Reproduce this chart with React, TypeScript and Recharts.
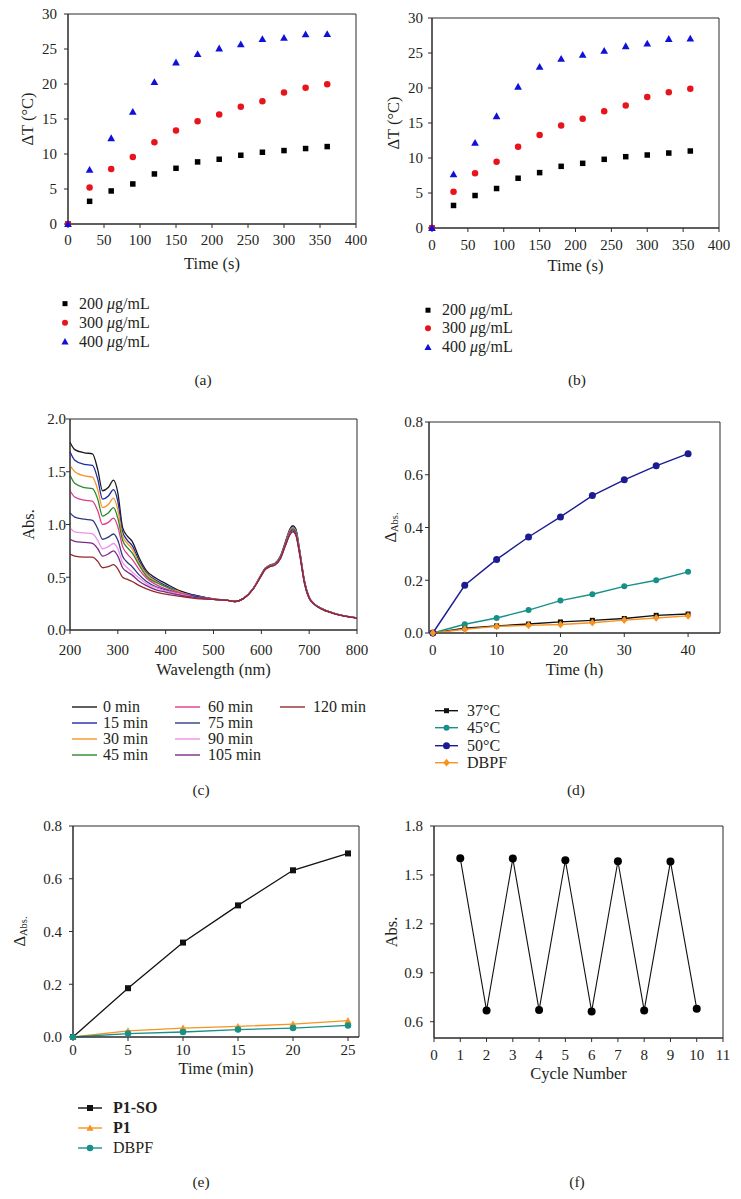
import React from "react";
import {
  ScatterChart,
  Scatter,
  LineChart,
  Line,
  XAxis,
  YAxis,
  ReferenceArea,
  Label,
} from "recharts";

const FONT = "'Liberation Serif', 'DejaVu Serif', serif";
const AX = "#2b2b2b";
const TXT = "#231f20";

// (a) / (b) temperature rise
const heatTimes = [0, 30, 60, 90, 120, 150, 180, 210, 240, 270, 300, 330, 360];
const heatLabels = ["200", "300", "400"];
const heatA200 = [0, 3.24, 4.72, 5.72, 7.15, 7.96, 8.87, 9.25, 9.82, 10.25, 10.49, 10.78, 11.06];
const heatA300 = [0, 5.2, 7.87, 9.58, 11.68, 13.35, 14.69, 15.64, 16.74, 17.55, 18.79, 19.46, 19.98];
const heatA400 = [0, 7.73, 12.26, 16.02, 20.27, 23.08, 24.27, 25.08, 25.66, 26.42, 26.61, 27.09, 27.13];
const heatB200 = [0, 3.22, 4.64, 5.64, 7.11, 7.91, 8.81, 9.24, 9.81, 10.19, 10.43, 10.71, 11.0];
const heatB300 = [0, 5.17, 7.82, 9.48, 11.61, 13.27, 14.64, 15.59, 16.68, 17.49, 18.72, 19.38, 19.9];
const heatB400 = [0, 7.68, 12.18, 15.97, 20.19, 23.03, 24.17, 24.74, 25.31, 25.97, 26.35, 27.01, 27.06];
const heatXTicks = [0, 50, 100, 150, 200, 250, 300, 350, 400];
const heatYTicks = [0, 5, 10, 15, 20, 25, 30];

// (c) spectra
const wavelengths = [
  200, 210, 230, 247, 258, 268, 280, 291, 300, 310, 320, 330, 345, 360, 380, 400, 430, 460, 500,
  530, 545, 563, 584, 598, 608, 618, 628, 640, 650, 660, 666, 672, 680, 690, 700, 710, 725, 750, 800,
];
const spec0 = [1.78, 1.71, 1.68, 1.67, 1.52, 1.32, 1.35, 1.42, 1.3, 0.97, 0.89, 0.84, 0.68, 0.56, 0.49, 0.44, 0.37, 0.33, 0.295, 0.28, 0.27, 0.3, 0.4, 0.51, 0.585, 0.615, 0.63, 0.7, 0.83, 0.96, 0.99, 0.96, 0.76, 0.47, 0.31, 0.25, 0.205, 0.16, 0.115];
const spec15 = [1.69, 1.61, 1.57, 1.56, 1.43, 1.24, 1.27, 1.33, 1.22, 0.93, 0.85, 0.8, 0.65, 0.54, 0.47, 0.42, 0.36, 0.33, 0.295, 0.28, 0.27, 0.3, 0.4, 0.51, 0.583, 0.613, 0.628, 0.7, 0.825, 0.95, 0.98, 0.95, 0.755, 0.465, 0.31, 0.25, 0.205, 0.16, 0.115];
const spec30 = [1.56, 1.5, 1.46, 1.45, 1.33, 1.16, 1.19, 1.25, 1.14, 0.89, 0.82, 0.77, 0.63, 0.53, 0.46, 0.41, 0.36, 0.32, 0.295, 0.28, 0.27, 0.3, 0.4, 0.51, 0.582, 0.611, 0.626, 0.695, 0.82, 0.945, 0.97, 0.94, 0.75, 0.46, 0.31, 0.25, 0.205, 0.16, 0.115];
const spec45 = [1.47, 1.39, 1.35, 1.34, 1.24, 1.08, 1.11, 1.16, 1.06, 0.85, 0.78, 0.73, 0.61, 0.51, 0.45, 0.41, 0.35, 0.32, 0.29, 0.28, 0.27, 0.3, 0.4, 0.505, 0.58, 0.61, 0.624, 0.69, 0.815, 0.935, 0.96, 0.93, 0.745, 0.46, 0.305, 0.25, 0.205, 0.16, 0.115];
const spec60 = [1.32, 1.26, 1.23, 1.22, 1.13, 1.0, 1.02, 1.06, 0.98, 0.79, 0.72, 0.67, 0.57, 0.49, 0.43, 0.39, 0.35, 0.32, 0.29, 0.28, 0.27, 0.3, 0.4, 0.505, 0.578, 0.607, 0.622, 0.69, 0.81, 0.93, 0.95, 0.92, 0.74, 0.455, 0.305, 0.25, 0.205, 0.16, 0.115];
const spec75 = [1.11, 1.07, 1.05, 1.04, 0.96, 0.86, 0.88, 0.91, 0.85, 0.7, 0.64, 0.6, 0.52, 0.46, 0.41, 0.38, 0.34, 0.32, 0.29, 0.28, 0.27, 0.3, 0.4, 0.5, 0.577, 0.605, 0.62, 0.685, 0.805, 0.925, 0.95, 0.92, 0.735, 0.455, 0.3, 0.248, 0.203, 0.16, 0.114];
const spec90 = [0.97, 0.93, 0.92, 0.91, 0.85, 0.77, 0.79, 0.82, 0.77, 0.64, 0.59, 0.55, 0.49, 0.44, 0.4, 0.37, 0.34, 0.31, 0.29, 0.28, 0.27, 0.3, 0.4, 0.5, 0.575, 0.603, 0.618, 0.68, 0.8, 0.915, 0.94, 0.91, 0.73, 0.45, 0.3, 0.247, 0.202, 0.159, 0.114];
const spec105 = [0.86, 0.84, 0.83, 0.82, 0.77, 0.7, 0.72, 0.75, 0.7, 0.59, 0.55, 0.52, 0.46, 0.42, 0.38, 0.36, 0.33, 0.31, 0.29, 0.28, 0.27, 0.3, 0.395, 0.5, 0.574, 0.602, 0.616, 0.68, 0.8, 0.91, 0.94, 0.905, 0.725, 0.45, 0.3, 0.246, 0.201, 0.158, 0.113];
const spec120 = [0.72, 0.7, 0.69, 0.69, 0.65, 0.59, 0.6, 0.62, 0.58, 0.5, 0.48, 0.46, 0.42, 0.39, 0.36, 0.34, 0.32, 0.3, 0.29, 0.28, 0.27, 0.3, 0.395, 0.5, 0.572, 0.6, 0.614, 0.675, 0.795, 0.905, 0.93, 0.9, 0.72, 0.445, 0.3, 0.245, 0.2, 0.158, 0.113];

const specSeries = [
  { key: "m0", label: "0 min", color: "#1a1a1a", values: spec0 },
  { key: "m15", label: "15 min", color: "#1c2aa6", values: spec15 },
  { key: "m30", label: "30 min", color: "#f5962a", values: spec30 },
  { key: "m45", label: "45 min", color: "#2a8a2a", values: spec45 },
  { key: "m60", label: "60 min", color: "#e03c8c", values: spec60 },
  { key: "m75", label: "75 min", color: "#2d3b82", values: spec75 },
  { key: "m90", label: "90 min", color: "#f28ee8", values: spec90 },
  { key: "m105", label: "105 min", color: "#7c2b86", values: spec105 },
  { key: "m120", label: "120 min", color: "#952a2a", values: spec120 },
];
const specRows = wavelengths.map((w, i) => {
  const row: Record<string, number> = { w };
  specSeries.forEach((s) => (row[s.key] = s.values[i]));
  return row;
});

// (d) temperature dependence
const hoursD = [0, 5, 10, 15, 20, 25, 30, 35, 40];
const d37 = [0, 0.018, 0.027, 0.034, 0.042, 0.048, 0.055, 0.067, 0.072];
const d45 = [0, 0.033, 0.057, 0.087, 0.123, 0.147, 0.177, 0.2, 0.232];
const d50 = [0, 0.181, 0.279, 0.364, 0.44, 0.521, 0.581, 0.634, 0.68];
const dDbpf = [0, 0.014, 0.025, 0.029, 0.032, 0.039, 0.049, 0.057, 0.065];
const rowsD = hoursD.map((t, i) => ({ t, a: d37[i], b: d45[i], c: d50[i], d: dDbpf[i] }));

// (e) minutes
const minutesE = [0, 5, 10, 15, 20, 25];
const eP1SO = [0, 0.185, 0.358, 0.499, 0.632, 0.696];
const eP1 = [0, 0.023, 0.034, 0.04, 0.049, 0.062];
const eDbpf = [0, 0.013, 0.019, 0.028, 0.034, 0.044];
const rowsE = minutesE.map((t, i) => ({ t, a: eP1SO[i], b: eP1[i], c: eDbpf[i] }));

// (f) cycles
const cycles = [1, 2, 3, 4, 5, 6, 7, 8, 9, 10];
const cycleAbs = [1.602, 0.669, 1.6, 0.671, 1.59, 0.663, 1.584, 0.669, 1.582, 0.68];
const rowsF = cycles.map((c, i) => ({ c, v: cycleAbs[i] }));

type Shape = "square" | "circle" | "triangle" | "diamond";

function Marker({ cx, cy, shape, color, size }: { cx?: number; cy?: number; shape: Shape; color: string; size: number }) {
  if (cx == null || cy == null || isNaN(cx) || isNaN(cy)) return null;
  const h = size / 2;
  if (shape === "square") return <rect x={cx - h} y={cy - h} width={size} height={size} fill={color} />;
  if (shape === "circle") return <circle cx={cx} cy={cy} r={h} fill={color} />;
  if (shape === "triangle")
    return <polygon points={`${cx},${cy - h * 1.1} ${cx - h * 1.1},${cy + h * 0.85} ${cx + h * 1.1},${cy + h * 0.85}`} fill={color} />;
  return <polygon points={`${cx},${cy - h * 1.2} ${cx + h},${cy} ${cx},${cy + h * 1.2} ${cx - h},${cy}`} fill={color} />;
}

const tick = { fontSize: 15, fontFamily: FONT, fill: TXT };
const fmt1 = (v: number) => v.toFixed(1);
const TITLE_SIZE = 16.5;

function yTitle(content: React.ReactNode, dx: number) {
  return function YTitle(props: any) {
    const vb = props.viewBox || { x: 0, y: 0, width: 0, height: 0 };
    const x = vb.x + dx;
    const y = vb.y + vb.height / 2;
    return (
      <text x={x} y={y} transform={`rotate(-90 ${x} ${y})`} textAnchor="middle" dominantBaseline="central" fontFamily={FONT} fontSize={TITLE_SIZE} fill={TXT}>
        {content}
      </text>
    );
  };
}

function xTitle(text: string, dy: number) {
  return function XTitle(props: any) {
    const vb = props.viewBox || { x: 0, y: 0, width: 0, height: 0 };
    return (
      <text x={vb.x + vb.width / 2} y={vb.y + dy} textAnchor="middle" fontFamily={FONT} fontSize={TITLE_SIZE} fill={TXT}>
        {text}
      </text>
    );
  };
}

const deltaAbs = (
  <>
    <tspan>Δ</tspan>
    <tspan fontSize={10.5} dy={4}>Abs.</tspan>
  </>
);

function LegendRow({ icon, iconW, gap, h, label, bold, size = 16 }: { icon: React.ReactNode; iconW: number; gap: number; h: number; label: React.ReactNode; bold?: boolean; size?: number }) {
  return (
    <div style={{ display: "flex", alignItems: "center", height: h, whiteSpace: "nowrap" }}>
      <svg width={iconW} height={h} style={{ flex: "none" }}>{icon}</svg>
      <span style={{ marginLeft: gap, fontSize: size, lineHeight: `${h}px`, fontWeight: bold ? 700 : 400 }}>{label}</span>
    </div>
  );
}

function Caption({ cx, cy, text }: { cx: number; cy: number; text: string }) {
  return (
    <div style={{ position: "absolute", left: cx - 20, top: cy - 10, width: 40, height: 20, lineHeight: "20px", textAlign: "center", fontSize: 15.5 }}>
      {text}
    </div>
  );
}

const heatStyles: { shape: Shape; color: string; size: number }[] = [
  { shape: "square", color: "#000000", size: 5.5 },
  { shape: "circle", color: "#e8141b", size: 6.5 },
  { shape: "triangle", color: "#1010dc", size: 7 },
];

function HeatPanel(p: {
  left: number; top: number; width: number; mTop: number; mRight: number; yW: number;
  series: number[][]; xTickM: number; yTickM: number; yDx: number; xDy: number;
  legLeft: number; legTop: number; legH: number;
}) {
  const plotH = 210;
  const xH = 52;
  return (
    <>
      <div style={{ position: "absolute", left: p.left, top: p.top }}>
        <ScatterChart width={p.width} height={p.mTop + plotH + xH} margin={{ top: p.mTop, right: p.mRight, bottom: 0, left: 0 }} style={{ fontFamily: FONT }}>
          <XAxis type="number" dataKey="x" domain={[0, 400]} ticks={heatXTicks} interval={0} height={xH}
            tick={tick} tickSize={4} tickMargin={p.xTickM} stroke={AX}
            label={<Label content={xTitle("Time (s)", p.xDy)} />} />
          <YAxis type="number" dataKey="y" domain={[0, 30]} ticks={heatYTicks} interval={0} width={p.yW}
            tick={tick} tickSize={4} tickMargin={p.yTickM} stroke={AX}
            label={<Label content={yTitle("ΔT (°C)", p.yDx)} />} />
          <ReferenceArea x1={0} x2={400} y1={0} y2={30} fill="none" stroke={AX} strokeWidth={1} />
          {p.series.map((vals, si) => (
            <Scatter key={si} name={heatLabels[si]} data={heatTimes.map((t, i) => ({ x: t, y: vals[i] }))} isAnimationActive={false}
              shape={(q: any) => <Marker cx={q.cx} cy={q.cy} {...heatStyles[si]} />} />
          ))}
        </ScatterChart>
      </div>
      <div style={{ position: "absolute", left: p.legLeft, top: p.legTop }}>
        {heatLabels.map((l, si) => (
          <LegendRow key={l} iconW={10} gap={9} h={p.legH}
            icon={<Marker cx={5} cy={p.legH / 2} {...heatStyles[si]} size={heatStyles[si].size - 0.5} />}
            label={<>{l} <i>μ</i>g/mL</>} />
        ))}
      </div>
    </>
  );
}

const dStyles = [
  { key: "a", label: "37°C", color: "#111111", shape: "square" as Shape, size: 5 },
  { key: "b", label: "45°C", color: "#179089", shape: "circle" as Shape, size: 6 },
  { key: "c", label: "50°C", color: "#1b1b92", shape: "circle" as Shape, size: 7 },
  { key: "d", label: "DBPF", color: "#f7931e", shape: "diamond" as Shape, size: 6.5 },
];

const eStyles = [
  { key: "a", label: "P1-SO", color: "#111111", shape: "square" as Shape, size: 6, bold: true },
  { key: "b", label: "P1", color: "#f7931e", shape: "triangle" as Shape, size: 6.5, bold: true },
  { key: "c", label: "DBPF", color: "#179089", shape: "circle" as Shape, size: 6.5, bold: false },
];

export default function App() {
  return (
    <div style={{ position: "absolute", left: 0, top: 0, width: 741, height: 1199, background: "#fff", fontFamily: FONT, color: TXT, overflow: "hidden" }}>
      <HeatPanel left={0} top={0} width={370} mTop={14} mRight={14} yW={68}
        series={[heatA200, heatA300, heatA400]} xTickM={6} yTickM={7} yDx={27} xDy={45}
        legLeft={60} legTop={293.5} legH={19.3} />
      <HeatPanel left={370} top={0} width={371} mTop={18} mRight={22} yW={62}
        series={[heatB200, heatB300, heatB400]} xTickM={7} yTickM={5} yDx={23} xDy={43}
        legLeft={423} legTop={301} legH={18.4} />
      <Caption cx={203} cy={380} text="(a)" />
      <Caption cx={577} cy={380} text="(b)" />

      {/* (c) */}
      <div style={{ position: "absolute", left: 0, top: 380 }}>
        <LineChart width={370} height={39 + 211 + 52} data={specRows} margin={{ top: 39, right: 13, bottom: 0, left: 0 }} style={{ fontFamily: FONT }}>
          <XAxis type="number" dataKey="w" domain={[200, 800]} ticks={[200, 300, 400, 500, 600, 700, 800]} interval={0} height={52}
            tick={tick} tickSize={4} tickMargin={10} stroke={AX}
            label={<Label content={xTitle("Wavelength (nm)", 45)} />} />
          <YAxis type="number" domain={[0, 2]} ticks={[0, 0.5, 1, 1.5, 2]} interval={0} width={70} tickFormatter={fmt1}
            tick={tick} tickSize={4} tickMargin={0} stroke={AX}
            label={<Label content={yTitle("Abs.", 28)} />} />
          <ReferenceArea x1={200} x2={800} y1={0} y2={2} fill="none" stroke={AX} strokeWidth={1} />
          {specSeries.map((s) => (
            <Line key={s.key} type="monotone" dataKey={s.key} stroke={s.color} strokeWidth={1.3} dot={false} isAnimationActive={false} />
          ))}
        </LineChart>
      </div>
      {[
        { left: 72, gap: 6, items: specSeries.slice(0, 4) },
        { left: 175, gap: 8, items: specSeries.slice(4, 8) },
        { left: 280, gap: 8, items: specSeries.slice(8) },
      ].map((col, ci) => (
        <div key={ci} style={{ position: "absolute", left: col.left, top: 699 }}>
          {col.items.map((s) => (
            <LegendRow key={s.key} iconW={25} gap={col.gap} h={16} size={16}
              icon={<line x1={0} x2={25} y1={8} y2={8} stroke={s.color} strokeWidth={1.4} />}
              label={s.label} />
          ))}
        </div>
      ))}

      {/* (d) */}
      <div style={{ position: "absolute", left: 370, top: 380 }}>
        <LineChart width={371} height={42 + 211 + 50} data={rowsD} margin={{ top: 42, right: 21, bottom: 0, left: 0 }} style={{ fontFamily: FONT }}>
          <XAxis type="number" dataKey="t" domain={[-0.6, 45]} allowDataOverflow ticks={[0, 10, 20, 30, 40]} interval={0} height={50}
            tick={tick} tickSize={4} tickMargin={7} stroke={AX}
            label={<Label content={xTitle("Time (h)", 42)} />} />
          <YAxis type="number" domain={[0, 0.8]} ticks={[0, 0.2, 0.4, 0.6, 0.8]} interval={0} width={59} tickFormatter={fmt1}
            tick={tick} tickSize={4} tickMargin={2} stroke={AX}
            label={<Label content={yTitle(deltaAbs, 20)} />} />
          <ReferenceArea x1={-0.6} x2={45} y1={0} y2={0.8} fill="none" stroke={AX} strokeWidth={1} />
          {dStyles.map((s) => (
            <Line key={s.key} type="linear" dataKey={s.key} stroke={s.color} strokeWidth={1.4} isAnimationActive={false}
              dot={(q: any) => <Marker key={`${s.key}${q.index}`} cx={q.cx} cy={q.cy} shape={s.shape} color={s.color} size={s.size} />} />
          ))}
        </LineChart>
      </div>
      <div style={{ position: "absolute", left: 435, top: 702 }}>
        {dStyles.map((s) => (
          <LegendRow key={s.key} iconW={23} gap={9} h={17.4}
            icon={<>
              <line x1={0} x2={23} y1={8.7} y2={8.7} stroke={s.color} strokeWidth={1.4} />
              <Marker cx={11.5} cy={8.7} shape={s.shape} color={s.color} size={s.size} />
            </>}
            label={s.label} />
        ))}
      </div>
      <Caption cx={201} cy={790} text="(c)" />
      <Caption cx={576} cy={790} text="(d)" />

      {/* (e) */}
      <div style={{ position: "absolute", left: 0, top: 780 }}>
        <LineChart width={370} height={46 + 211 + 46} data={rowsE} margin={{ top: 46, right: 11, bottom: 0, left: 0 }} style={{ fontFamily: FONT }}>
          <XAxis type="number" dataKey="t" domain={[0, 26]} ticks={[0, 5, 10, 15, 20, 25]} interval={0} height={46}
            tick={tick} tickSize={4} tickMargin={3} stroke={AX}
            label={<Label content={xTitle("Time (min)", 37)} />} />
          <YAxis type="number" domain={[0, 0.8]} ticks={[0, 0.2, 0.4, 0.6, 0.8]} interval={0} width={73} tickFormatter={fmt1}
            tick={tick} tickSize={4} tickMargin={7} stroke={AX}
            label={<Label content={yTitle(deltaAbs, 19)} />} />
          <ReferenceArea x1={0} x2={26} y1={0} y2={0.8} fill="none" stroke={AX} strokeWidth={1} />
          {eStyles.map((s) => (
            <Line key={s.key} type="linear" dataKey={s.key} stroke={s.color} strokeWidth={1.3} isAnimationActive={false}
              dot={(q: any) => <Marker key={`${s.key}${q.index}`} cx={q.cx} cy={q.cy} shape={s.shape} color={s.color} size={s.size} />} />
          ))}
        </LineChart>
      </div>
      <div style={{ position: "absolute", left: 78, top: 1098 }}>
        {eStyles.map((s) => (
          <LegendRow key={s.key} iconW={24} gap={11} h={20} bold={s.bold}
            icon={<>
              <line x1={0} x2={24} y1={10} y2={10} stroke={s.color} strokeWidth={1.4} />
              <Marker cx={12} cy={10} shape={s.shape} color={s.color} size={s.size} />
            </>}
            label={s.label} />
        ))}
      </div>

      {/* (f) */}
      <div style={{ position: "absolute", left: 370, top: 780 }}>
        <LineChart width={371} height={46 + 212 + 50} data={rowsF} margin={{ top: 46, right: 18, bottom: 0, left: 0 }} style={{ fontFamily: FONT }}>
          <XAxis type="number" dataKey="c" domain={[0, 11]} ticks={[0, 1, 2, 3, 4, 5, 6, 7, 8, 9, 10, 11]} interval={0} height={50}
            tick={tick} tickSize={4} tickMargin={7} stroke={AX}
            label={<Label content={xTitle("Cycle Number", 41)} />} />
          <YAxis type="number" domain={[0.5, 1.8]} ticks={[0.6, 0.9, 1.2, 1.5, 1.8]} interval={0} width={64} tickFormatter={fmt1}
            tick={tick} tickSize={4} tickMargin={7} stroke={AX}
            label={<Label content={yTitle("Abs.", 21)} />} />
          <ReferenceArea x1={0} x2={11} y1={0.5} y2={1.8} fill="none" stroke={AX} strokeWidth={1} />
          <Line type="linear" dataKey="v" stroke="#111" strokeWidth={1.1} isAnimationActive={false}
            dot={(q: any) => <Marker key={`f${q.index}`} cx={q.cx} cy={q.cy} shape="circle" color="#000" size={8} />} />
        </LineChart>
      </div>
      <Caption cx={201} cy={1182} text="(e)" />
      <Caption cx={577} cy={1182} text="(f)" />
    </div>
  );
}
